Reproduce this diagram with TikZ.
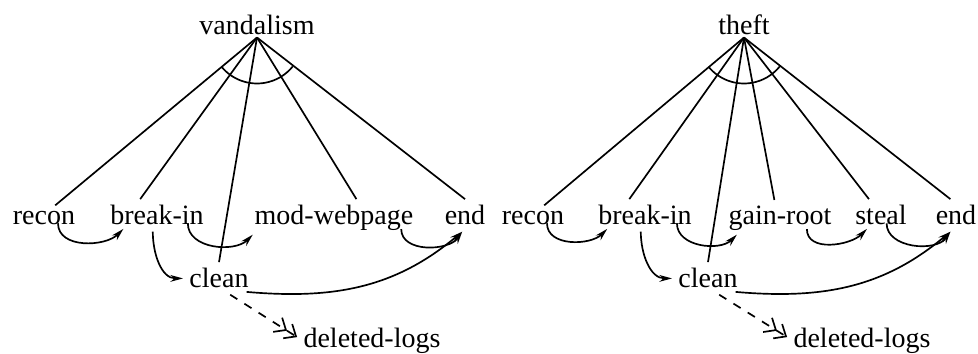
\documentclass[tikz,border=0pt]{standalone}
\usepackage{fontspec}
\setmainfont{Liberation Serif}
\usetikzlibrary{arrows.meta}

\begin{document}
\begin{tikzpicture}[x=0.357pt, y=0.357pt, line width=0.6pt, >={Stealth[length=4.5pt,width=2.4pt]}]
    \tikzstyle{node_style} = [inner sep=2pt, anchor=base]
    \tikzstyle{edge_style} = [draw=black]
    \tikzstyle{seq_style} = [draw=black, ->]
    \tikzstyle{dash_style} = [draw=black, dashed, -{Straight Barb[length=3.5pt,width=6pt]Straight Barb[length=3.5pt,width=6pt]}]
    \useasboundingbox (0,0) rectangle (978,-354);

    \node[node_style] (v0) at (257,-35) {vandalism};
    \node[node_style] (v1) at (44,-225) {recon};
    \node[node_style] (v2) at (157,-225) {break-in};
    \node[node_style] (v3) at (334,-225) {mod-webpage};
    \node[node_style] (v4) at (465,-225) {end};
    \node[node_style] (v5) at (219,-288) {clean};
    \node[node_style] (v6) at (372,-348) {deleted-logs};
    \coordinate (p0) at ([yshift=1.5pt]v0.south);

    \node[node_style] (w0) at (744,-35) {theft};
    \node[node_style] (w1) at (533,-225) {recon};
    \node[node_style] (w2) at (645,-225) {break-in};
    \node[node_style] (w3) at (780,-225) {gain-root};
    \node[node_style] (w4) at (881,-225) {steal};
    \node[node_style] (w5) at (956,-225) {end};
    \node[node_style] (w6) at (708,-288) {clean};
    \node[node_style] (w7) at (862,-348) {deleted-logs};
    \coordinate (q0) at ([yshift=1.5pt]w0.south);

    \draw[edge_style] (p0) -- ([xshift=4pt]v1.north);
    \draw[edge_style] (p0) -- ([xshift=-6pt]v2.north);
    \draw[edge_style] (p0) -- (v5.north);
    \draw[edge_style] (p0) -- ([xshift=8pt]v3.north);
    \draw[edge_style] (p0) -- (v4.north);
    \draw[edge_style] (p0) ++(220:46) arc[start angle=220, end angle=321, radius=46];

    \draw[seq_style] ([xshift=5pt,yshift=3pt]v1.south) to[out=-90, in=225] ([xshift=-12pt,yshift=1pt]v2.south);
    \draw[seq_style] ([xshift=11pt,yshift=3pt]v2.south) to[out=-90, in=225] ([xshift=-29pt,yshift=1pt]v3.south);
    \draw[seq_style] ([xshift=24pt,yshift=3pt]v3.south) to[out=-90, in=235] ([xshift=-1pt]v4.south);
    \draw[seq_style] ([xshift=-1.5pt]v2.south) to[out=-90, in=180] (v5.west);
    \draw[seq_style] ([xshift=-3pt,yshift=1pt]v5.south east) to[out=-5, in=220] ([xshift=-1pt]v4.south);
    \draw[dash_style] ([xshift=4pt]v5.south) -- ([yshift=1.5pt]v6.west);

    \draw[edge_style] (q0) -- ([xshift=4pt]w1.north);
    \draw[edge_style] (q0) -- ([xshift=-5.6pt]w2.north);
    \draw[edge_style] (q0) -- (w6.north);
    \draw[edge_style] (q0) -- ([xshift=-2pt]w3.north);
    \draw[edge_style] (q0) -- ([xshift=-4.3pt]w4.north);
    \draw[edge_style] (q0) -- ([xshift=-2pt]w5.north);
    \draw[edge_style] (q0) ++(220:46) arc[start angle=220, end angle=321, radius=46];

    \draw[seq_style] ([xshift=5pt,yshift=3pt]w1.south) to[out=-90, in=225] ([xshift=-13.5pt,yshift=1pt]w2.south);
    \draw[seq_style] ([xshift=11.4pt,yshift=3pt]w2.south) to[out=-90, in=225] ([xshift=-15.4pt,yshift=1pt]w3.south);
    \draw[seq_style] ([xshift=9.6pt,yshift=3pt]w3.south) to[out=-90, in=225] ([xshift=-5pt,yshift=1pt]w4.south);
    \draw[seq_style] ([xshift=2pt,yshift=3pt]w4.south) to[out=-90, in=235] ([xshift=-2pt]w5.south);
    \draw[seq_style] ([xshift=-1.5pt]w2.south) to[out=-90, in=180] (w6.west);
    \draw[seq_style] ([xshift=-3pt,yshift=1pt]w6.south east) to[out=-5, in=220] ([xshift=-2pt]w5.south);
    \draw[dash_style] ([xshift=4pt]w6.south) -- ([yshift=1.5pt]w7.west);
\end{tikzpicture}
\end{document}
